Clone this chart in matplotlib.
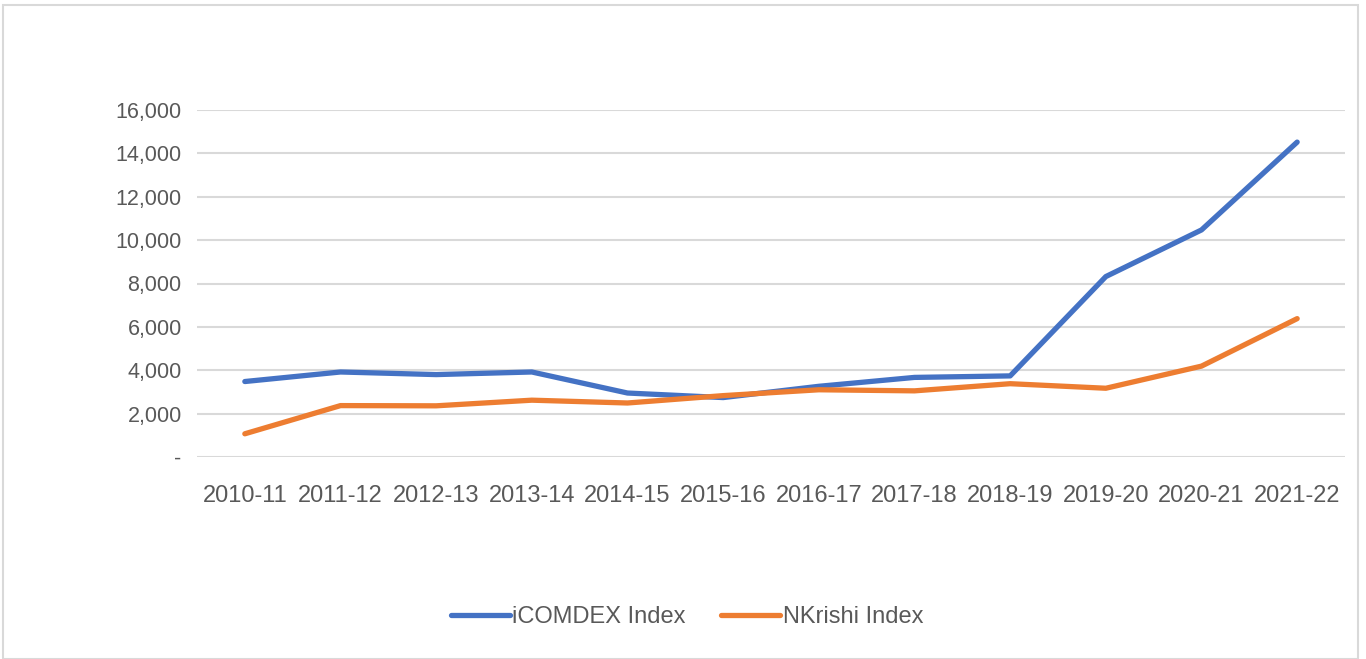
import matplotlib.pyplot as plt
from matplotlib.patches import Rectangle
from matplotlib.ticker import FuncFormatter

years = ['2010-11', '2011-12', '2012-13', '2013-14', '2014-15', '2015-16',
         '2016-17', '2017-18', '2018-19', '2019-20', '2020-21', '2021-22']
icomdex = [3480, 3920, 3800, 3920, 2950, 2740, 3260, 3670, 3740, 8320, 10470, 14520]
nkrishi = [1070, 2370, 2360, 2620, 2490, 2830, 3100, 3050, 3380, 3170, 4190, 6380]

blue = '#4472C4'
orange = '#ED7D31'
grey_txt = '#595959'
grid_col = '#D9D9D9'

plt.rcParams['font.family'] = ['Liberation Sans', 'DejaVu Sans']

fig = plt.figure(figsize=(13.66, 6.59), dpi=100)
# outer chart border
fig.patches.append(Rectangle((3 / 1366, 0), 1355 / 1366, 1 - 5 / 659,
                             transform=fig.transFigure, fill=False,
                             edgecolor=grid_col, linewidth=1.5))

ax = fig.add_axes([197 / 1366, 1 - 457 / 659, 1148 / 1366, 347 / 659])
x = range(len(years))
ax.plot(x, icomdex, color=blue, linewidth=3.8, solid_capstyle='round',
        solid_joinstyle='round', label='iCOMDEX Index', zorder=3)
ax.plot(x, nkrishi, color=orange, linewidth=3.8, solid_capstyle='round',
        solid_joinstyle='round', label='NKrishi Index', zorder=3)

ax.set_xlim(-0.5, len(years) - 0.5)
ax.set_ylim(0, 16000)
ax.set_yticks(range(0, 16001, 2000))
ax.yaxis.set_major_formatter(FuncFormatter(lambda v, p: '-' if v == 0 else f'{int(v):,}'))
ax.set_xticks(list(x))
ax.set_xticklabels(years)
ax.grid(axis='y', color=grid_col, linewidth=1.5)
ax.set_axisbelow(True)
for s in ax.spines.values():
    s.set_visible(False)
ax.tick_params(length=0, colors=grey_txt)
ax.tick_params(axis='y', pad=11, labelsize=15.5)
ax.tick_params(axis='x', pad=20, labelsize=17)

leg = fig.legend(loc='center', bbox_to_anchor=(687 / 1366, 1 - 617 / 659), ncol=2,
                 frameon=False, fontsize=17, handlelength=2.5, columnspacing=1.5,
                 handletextpad=0.1)
for t in leg.get_texts():
    t.set_color(grey_txt)

fig.savefig('out.png', dpi=100)
